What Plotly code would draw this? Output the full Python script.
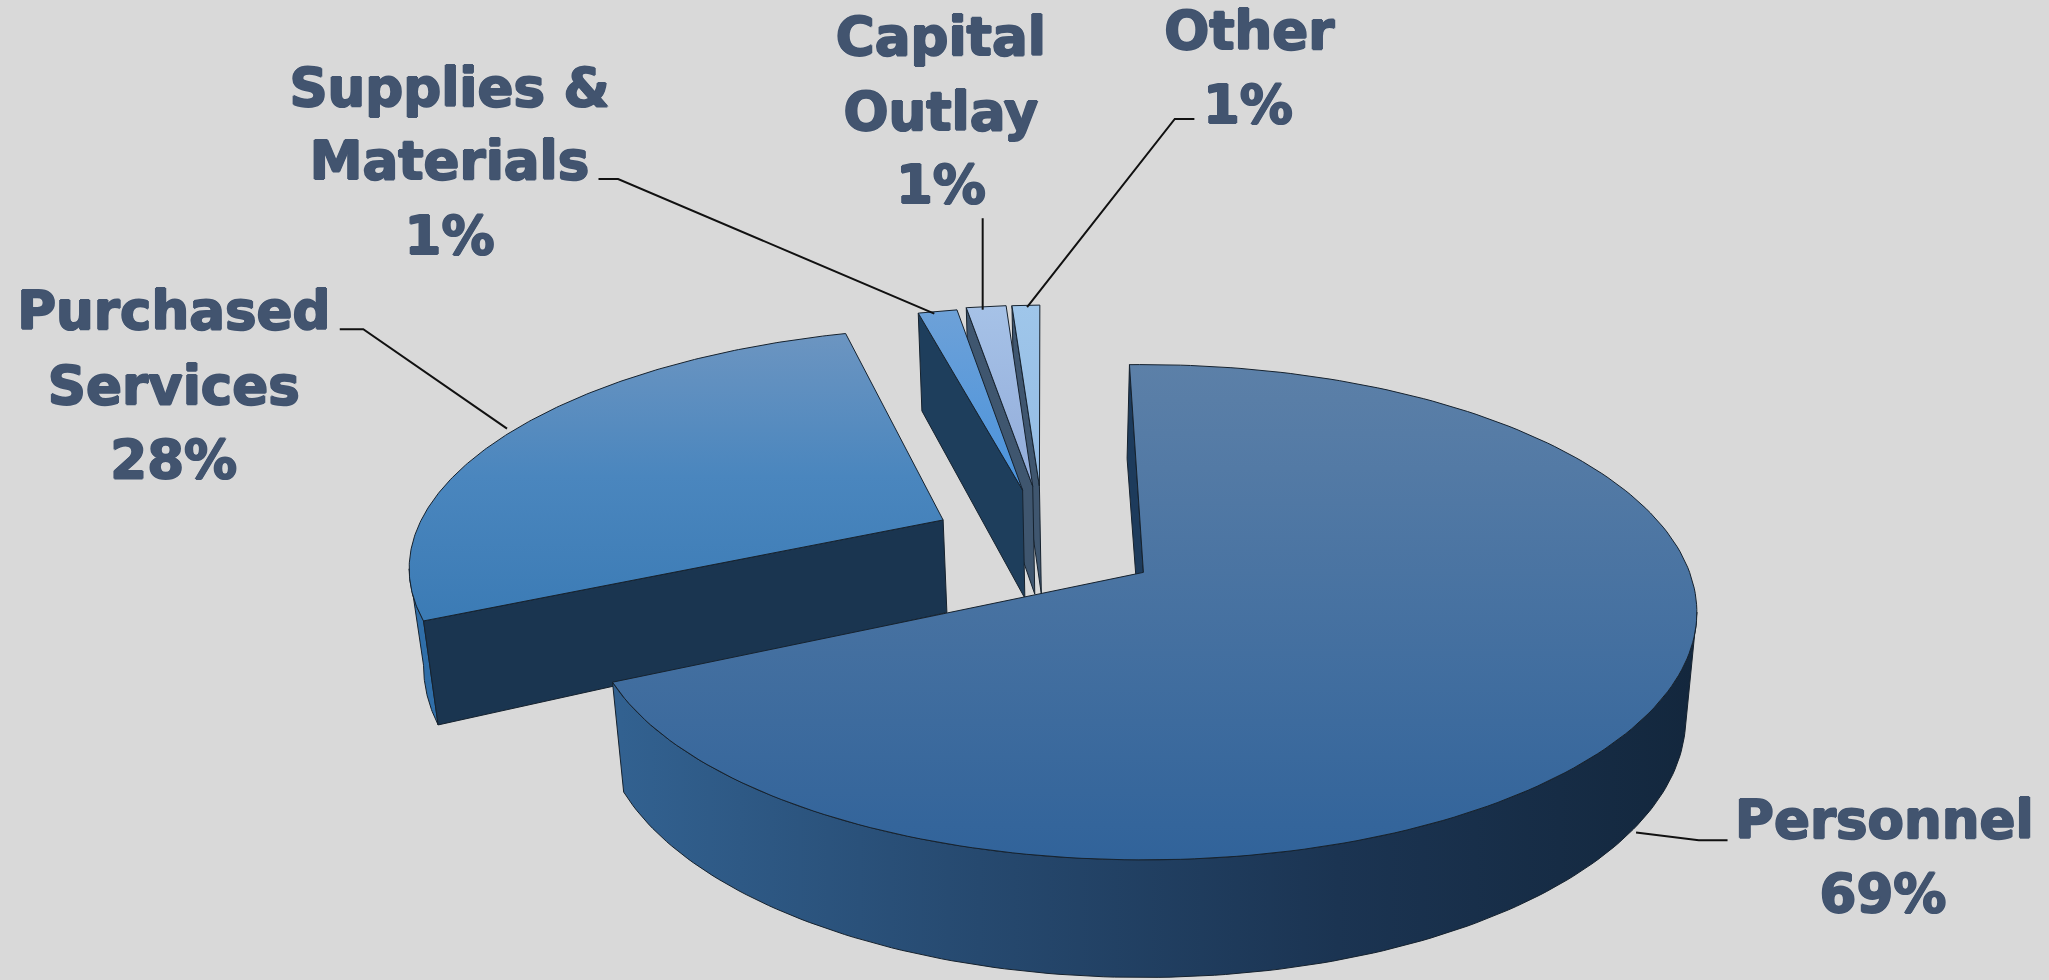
import numpy as np
import plotly.graph_objects as go

# ---------- data ----------
categories = ["Personnel", "Purchased Services", "Supplies & Materials", "Capital Outlay", "Other"]
shares = [68.5, 27.6, 1.42, 1.46, 1.02]
label_lines = [["Personnel", "69%"],
               ["Purchased", "Services", "28%"],
               ["Supplies &", "Materials", "1%"],
               ["Capital", "Outlay", "1%"],
               ["Other", "1%"]]

# ---------- drawing setup ----------
W, H = 2049, 980
S = W / 1568
START = -1.7
CX, CY, AX, BY, K, M = 875, 438, 418, 184.6, 0.161, 0.02

offsets = [(0, 0), (-0.38, -0.225), (-0.234, -0.361), (-0.215, -0.379), (-0.202, -0.379)]
radii = [1, 0.99, 0.975, 0.97, 0.97]
depth = [(81.7, 0), (76.9, 13), (88, 0), (88, 0), (88, 0)]
top_cols = [("#5c80a8", "#31639a"), ("#6c95c1", "#4a86be", "#3b7bb5"), ("#6da1d8", "#4a93dc"),
            ("#a6c2e7", "#92acda"), ("#9fc6ea", "#94bce4")]
wall_cols = ["#1d3b5c", "#1a3550", "#1e3e5c", "#3f566f", "#3f566f"]
line_col = "#16222e"
text_col = "#42546f"
label_pos = [[(1442, 631), (1441, 688)],
             [(133, 242), (133, 299), (133, 356)],
             [(344, 71), (344, 127), (344, 184)],
             [(720, 32), (720, 89), (720, 145)],
             [(956, 27), (955, 84)]]
leaders = [[(1252, 637), (1300, 643), (1322, 643)],
           [(260, 252), (278, 252), (388, 328)],
           [(458, 137), (473, 137), (715, 240)],
           [(752, 167), (752, 237)],
           [(914, 91), (899, 91), (786, 235)]]

edges = START + np.concatenate([[0], np.cumsum(shares)]) * 3.6


def proj(X, Y, d=None):
    X, Y = np.asarray(X, float), np.asarray(Y, float)
    w = 1 - K * Y
    if d is None:
        return (CX + AX * X / w) * S, (CY + BY * Y / w) * S
    w = w + M
    return (CX + AX * X / w) * S, (CY + (BY * Y + d[0] + d[1] * Y) / w) * S


def disc(i, a0, a1, n=200):
    t = np.radians(np.linspace(a0, a1, n))
    return offsets[i][0] + radii[i] * np.sin(t), offsets[i][1] - radii[i] * np.cos(t)


def poly(x, y, fill=None, grad=None, width=1.0):
    kw = dict(fillgradient=grad) if grad else dict(fillcolor=fill)
    x, y = list(x), list(y)
    return go.Scatter(x=x + [x[0]], y=y + [y[0]], mode="lines", fill="toself",
                      line=dict(color=line_col, width=width), hoverinfo="skip",
                      showlegend=False, **kw)


def gradient(kind, cols, a, b):
    stops = np.linspace(0, 1, len(cols))
    return dict(type=kind, colorscale=[[float(s), c] for s, c in zip(stops, cols)], start=a, stop=b)


def cut_wall(i, angle, apex_shift=0.0, outer_shift=0.0):
    ox, oy = offsets[i]
    rx, ry = disc(i, angle, angle, 1)
    xs = np.array([ox, rx[0]])
    ys = np.array([oy, ry[0]])
    tx, ty = proj(xs, ys)
    bx, by = proj(xs, ys, depth[i])
    return poly([tx[0], tx[1], bx[1] + outer_shift * S, bx[0] + apex_shift * S],
                [ty[0], ty[1], by[1], by[0]], fill=wall_cols[i])


def top_face(i):
    a0, a1 = edges[i], edges[i + 1]
    dx, dy = disc(i, a0, a1)
    X = np.concatenate([[offsets[i][0]], dx])
    Y = np.concatenate([[offsets[i][1]], dy])
    x, y = proj(X, Y)
    return poly(x, y, grad=gradient("vertical", list(top_cols[i]), float(y.min()), float(y.max())))


def rim(i, a0, a1, cols, x0, x1, trim):
    # outer wall between the top and the bottom arc; the silhouette edge joins
    # the two arcs at their horizontal extreme
    dx, dy = disc(i, a0, a1)
    tx, ty = proj(dx, dy)
    bx, by = proj(dx, dy, depth[i])
    if trim == "right":
        p, q = int(np.argmax(tx)), int(np.argmax(bx))
        tx, ty, bx, by = tx[p:], ty[p:], bx[q:], by[q:]
    else:
        p, q = int(np.argmin(tx)), int(np.argmin(bx))
        tx, ty, bx, by = tx[:p + 1], ty[:p + 1], bx[:q + 1], by[:q + 1]
    return poly(np.concatenate([tx, bx[::-1]]), np.concatenate([ty, by[::-1]]),
                grad=gradient("horizontal", cols, x0 * S, x1 * S))


fig = go.Figure()

# far slivers first, each with its exposed cut wall
for i in (4, 3, 2):
    fig.add_trace(cut_wall(i, edges[i]))
    fig.add_trace(top_face(i))

# purchased services
fig.add_trace(rim(1, edges[1], 320, ["#2f6ea8", "#2f6ea8"], 300, 400, "left"))
fig.add_trace(cut_wall(1, edges[1]))
fig.add_trace(top_face(1))

# personnel
fig.add_trace(cut_wall(0, edges[0], apex_shift=0, outer_shift=-2))
fig.add_trace(rim(0, 45, edges[1], ["#326190", "#26496f", "#1b3452", "#13273d"], 475, 1298, "right"))
fig.add_trace(top_face(0))

# leader lines
for pts in leaders:
    fig.add_trace(go.Scatter(x=[p[0] * S for p in pts], y=[p[1] * S for p in pts], mode="lines",
                             line=dict(color="#111111", width=2), hoverinfo="skip",
                             showlegend=False))

# labels
thick = "1px 0 0 {0}, -1px 0 0 {0}, 0 1px 0 {0}, 0 -1px 0 {0}".format(text_col)
for lines, pos in zip(label_lines, label_pos):
    fig.add_trace(go.Scatter(x=[p[0] * S for p in pos], y=[p[1] * S for p in pos], mode="text",
                             text=lines, textposition="middle center", cliponaxis=False,
                             textfont=dict(family="DejaVu Sans", size=53, color=text_col,
                                           weight="bold", shadow=thick),
                             hoverinfo="skip", showlegend=False))

fig.update_layout(width=W, height=H, margin=dict(l=0, r=0, t=0, b=0),
                  paper_bgcolor="#d9d9d9", plot_bgcolor="#d9d9d9",
                  xaxis=dict(range=[0, W], visible=False, fixedrange=True),
                  yaxis=dict(range=[H, 0], visible=False, fixedrange=True))
fig.write_html("out.html", config=dict(displayModeBar=False),
               post_script="document.body.style.margin='0';document.body.style.background='#d9d9d9';"
                           "document.documentElement.style.overflow='hidden';")
